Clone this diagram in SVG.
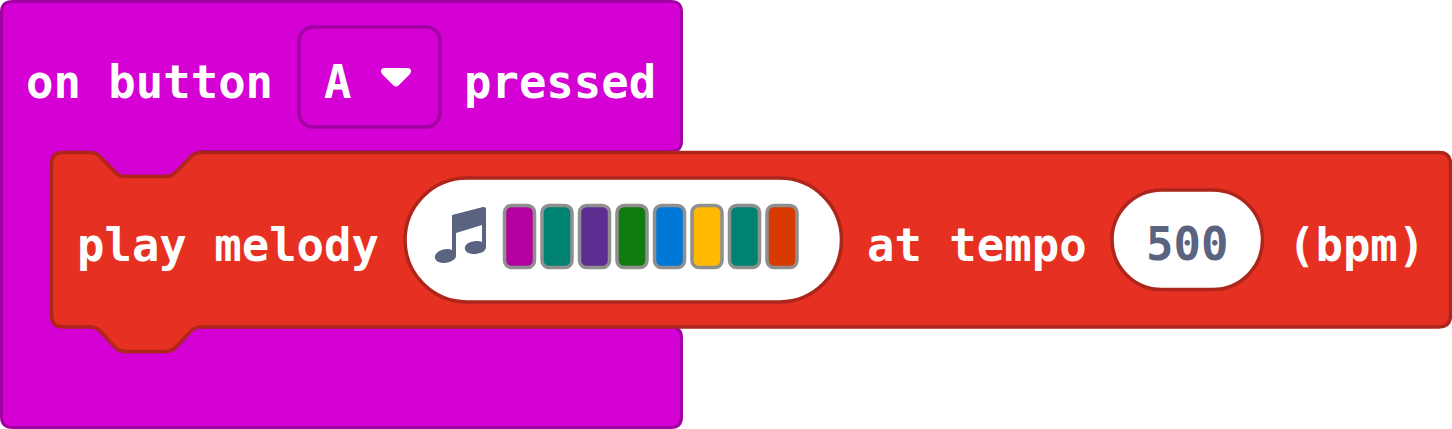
<svg xmlns="http://www.w3.org/2000/svg" width="1452" height="429" viewBox="0 0 1452 429">
<style>
.t{font-family:"DejaVu Sans Mono","Liberation Mono",monospace;font-weight:700;font-size:45.6px;fill:#fff}
.s{fill:#e63022;stroke:#ad251b;stroke-width:3.500}
.slot{stroke:#8f8f8f;stroke-width:3.500}
</style>
<g id="event-block">
<path d="M13 1.500H671Q681.500 1.500 681.500 12V141Q681.500 151.500 671 151.500H200V327H671Q681.500 327 681.500 338V417Q681.500 427.500 671 427.500H13Q1.500 427.500 1.500 417V12Q1.500 1.500 13 1.500Z" fill="#d400d4" stroke="#a300a3" stroke-width="3"/>
<rect x="299" y="27" width="141" height="100" rx="14" fill="#d400d4" stroke="#a300a3" stroke-width="3.500"/>
<text class="t" x="26" y="98">on button</text>
<text class="t" x="324" y="98">A</text>
<path d="M384 68H408Q413 69 410 74L399 85Q396 88 393 85L382 74Q379 69 384 68Z" fill="#fff"/>
<text class="t" x="464" y="98">pressed</text>
</g>
<g id="melody-block">
<path class="s" d="M63 152.500H90Q96 152.500 100 156.500L114 171Q119 176.500 125 176.500H166Q172 176.500 177 171L191 156.500Q195 152.500 201 152.500H1439Q1450.500 152.500 1450.500 164V315Q1450.500 327 1439 327H201Q195 327 191 331L177 346Q172 351.500 166 351.500H125Q119 351.500 114 346L100 331Q96 327 90 327H63Q51.500 327 51.500 315V164Q51.500 152.500 63 152.500Z"/>
<text class="t" x="77" y="261">play melody</text>
<text class="t" x="867" y="261">at tempo</text>
<text class="t" x="1288" y="261">(bpm)</text>
</g>
<g id="melody-field">
<rect class="s" x="405" y="178" width="436.500" height="124" rx="62" style="fill:#fff"/>
<path d="M452 215L483 207Q486 206.500 486 209V247C486 252 479 254 474 254C468 254 464 251 465 247C466 243 472 241 477 241Q480 241 482 242V225L456 233V256C456 260 449 263 444 263C438 263 434 260 435 256C436 252 442 249 447 249Q450 249 452 250Z" fill="#5a6480"/>
<g class="slot">
<rect x="504.500" y="205.500" width="30" height="62" rx="7" fill="#b3009e"/>
<rect x="542" y="205.500" width="30" height="62" rx="7" fill="#008272"/>
<rect x="579.500" y="205.500" width="30" height="62" rx="7" fill="#5c2d91"/>
<rect x="617" y="205.500" width="30" height="62" rx="7" fill="#107c10"/>
<rect x="654.500" y="205.500" width="30" height="62" rx="7" fill="#0078d7"/>
<rect x="692" y="205.500" width="30" height="62" rx="7" fill="#ffb900"/>
<rect x="729.500" y="205.500" width="30" height="62" rx="7" fill="#008272"/>
<rect x="767" y="205.500" width="30" height="62" rx="7" fill="#d83b01"/>
</g>
</g>
<g id="tempo-field">
<rect class="s" x="1112" y="190" width="150.500" height="99.500" rx="49.700" style="fill:#fff"/>
<text class="t" x="1146" y="260" style="fill:#5a6480">500</text>
</g>
<g id="connectors"/>
</svg>
